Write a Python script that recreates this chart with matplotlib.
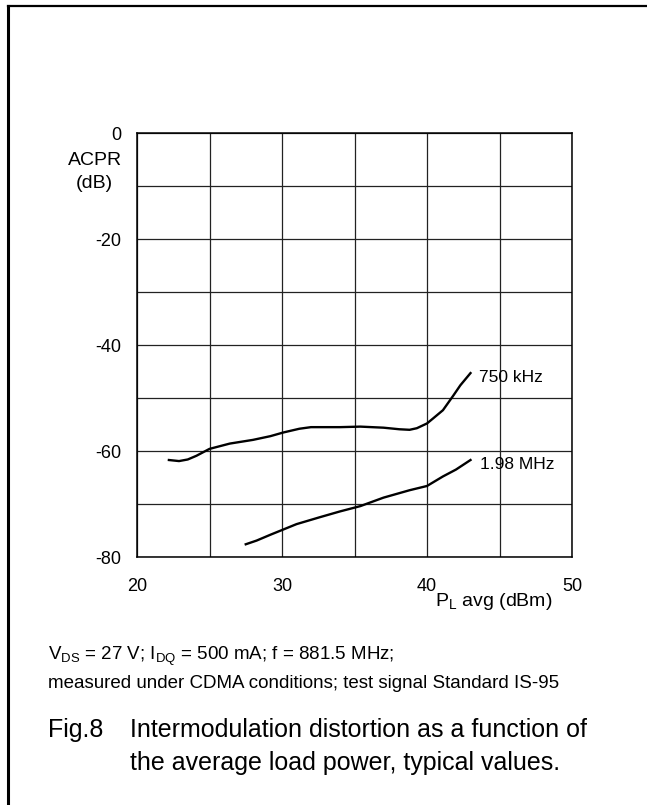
import matplotlib
matplotlib.use("Agg")
import matplotlib.pyplot as plt
from matplotlib.lines import Line2D

plt.rcParams['font.family'] = ['Liberation Sans', 'DejaVu Sans']
plt.rcParams['mathtext.fontset'] = 'custom'
plt.rcParams['mathtext.rm'] = 'Liberation Sans'
plt.rcParams['mathtext.it'] = 'Liberation Sans'
plt.rcParams['axes.unicode_minus'] = False

# ACPR curves (P_L avg in dBm, ACPR in dB)
p_750k = [22.2, 22.9, 23.5, 24.1, 25.0, 26.4, 28.0, 29.2, 30.1, 31.2, 32.0,
          34.0, 35.4, 37.0, 38.1, 38.8, 39.3, 40.0, 40.4, 41.1, 41.8, 42.3, 43.0]
acpr_750k = [-61.7, -61.9, -61.6, -60.9, -59.6, -58.6, -57.9, -57.2, -56.5, -55.8, -55.5,
             -55.5, -55.4, -55.6, -55.9, -56.0, -55.7, -54.8, -53.9, -52.3, -49.6, -47.6, -45.3]

p_198m = [27.5, 28.25, 29.2, 30.1, 31.0, 32.6, 34.0, 35.4, 36.2, 37.0, 38.8,
          40.0, 41.1, 42.0, 43.0]
acpr_198m = [-77.6, -76.9, -75.8, -74.8, -73.8, -72.5, -71.4, -70.4, -69.6, -68.8, -67.4,
             -66.6, -64.8, -63.5, -61.7]

x_ticks = [20, 30, 40, 50]
y_ticks = [0, -20, -40, -60, -80]
x_grid = [20, 25, 30, 35, 40, 45, 50]
y_grid = [0, -10, -20, -30, -40, -50, -60, -70, -80]

fig = plt.figure(figsize=(6.47, 8.05), dpi=100)
ax = fig.add_axes([137 / 647, 1 - 557 / 805, 435 / 647, 424 / 805])

for g in x_grid:
    ax.axvline(g, color='#222222', lw=0.9, zorder=1)
for g in y_grid:
    ax.axhline(g, color='#222222', lw=0.9, zorder=1)

ax.plot(p_750k, acpr_750k, color='black', lw=1.7, zorder=3)
ax.plot(p_198m, acpr_198m, color='black', lw=1.7, zorder=3)

ax.text(43.6, -46.2, '750 kHz', fontsize=12.5, va='center', ha='left')
ax.text(43.65, -62.6, '1.98 MHz', fontsize=12.5, va='center', ha='left')

ax.set_xlim(20, 50)
ax.set_ylim(-80, 0)
ax.set_xticks(x_ticks)
ax.set_yticks(y_ticks)
ax.tick_params(length=0, labelsize=13)
ax.tick_params(axis='y', pad=11)
ax.tick_params(axis='x', pad=15)
for s in ax.spines.values():
    s.set_linewidth(1.1)

ax.text(-0.097, 0.936, 'ACPR', transform=ax.transAxes, fontsize=14,
        ha='center', va='center')
ax.text(-0.097, 0.882, '(dB)', transform=ax.transAxes, fontsize=14,
        ha='center', va='center')
ax.text(0.954, -0.1156, r'P$_\mathrm{L}$ avg (dBm)', transform=ax.transAxes,
        fontsize=14, ha='right', va='baseline')

# conditions and caption
fig.text(48 / 647, 1 - 660 / 805,
         r'V$_\mathrm{DS}$ = 27 V; I$_\mathrm{DQ}$ = 500 mA; f = 881.5 MHz;',
         fontsize=13.5, va='baseline')
fig.text(48 / 647, 1 - 688 / 805,
         'measured under CDMA conditions; test signal Standard IS-95',
         fontsize=13.5, va='baseline')
fig.text(48 / 647, 1 - 737 / 805, 'Fig.8', fontsize=18, va='baseline')
fig.text(130 / 647, 1 - 737 / 805, 'Intermodulation distortion as a function of',
         fontsize=18, va='baseline')
fig.text(130 / 647, 1 - 770 / 805, 'the average load power, typical values.',
         fontsize=18, va='baseline')

# partial frame (left and top edges)
fig.add_artist(Line2D([8 / 647, 8 / 647], [0, 1 - 6 / 805], transform=fig.transFigure,
                      color='black', lw=2.2))
fig.add_artist(Line2D([8 / 647, 1], [1 - 6 / 805, 1 - 6 / 805], transform=fig.transFigure,
                      color='black', lw=1.6))

fig.savefig('out.png', dpi=100)
